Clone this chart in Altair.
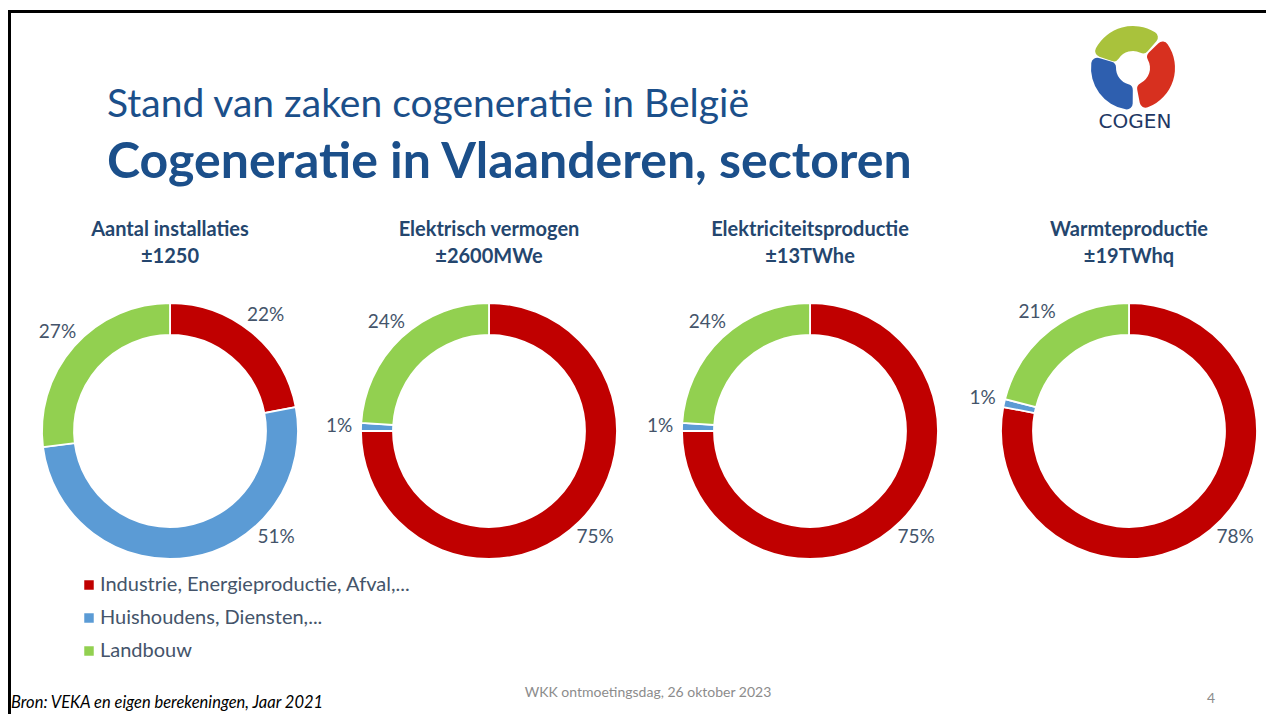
import altair as alt
import pandas as pd

# ---- data ----
panels = ["Aantal installaties", "Elektrisch vermogen", "Elektriciteitsproductie", "Warmteproductie"]
totals = ["±1250", "±2600MWe", "±13TWhe", "±19TWhq"]
categories = ["Industrie, Energieproductie, Afval,...", "Huishoudens, Diensten,...", "Landbouw"]
industrie = [22, 75, 75, 78]
huishoudens = [51, 1, 1, 1]
landbouw = [27, 24, 24, 21]
colors = ["#C00000", "#5B9BD5", "#92D050"]

series = [industrie, huishoudens, landbouw]
rows = []
for i, p in enumerate(panels):
    for j, cat in enumerate(categories):
        rows.append({"panel": p, "category": cat, "ord": j, "value": series[j][i]})
df = pd.DataFrame(rows)

FONT = "Lato"
TXT = "#44546A"
NAVY = "#1B4F8A"
HEAD = "#24466E"

centers = [162, 481, 802, 1121]   # panel centres (layout)
CY = 423
LABEL_R = 150

color_enc = alt.Color(
    "category:N",
    scale=alt.Scale(domain=categories, range=colors),
    legend=alt.Legend(
        title=None, orient="none", legendX=71, legendY=567, direction="vertical",
        symbolType="square", symbolSize=90, symbolStrokeWidth=0,
        labelFont=FONT, labelFontSize=20, labelColor=TXT, rowPadding=13,
        labelOffset=1, padding=0, labelLimit=0,
    ),
)

def donut(p, cx):
    base = alt.Chart(df).transform_filter(alt.datum.panel == p)
    arc = base.mark_arc(innerRadius=96, outerRadius=128, stroke="white", strokeWidth=1.8).encode(
        x=alt.value(cx), y=alt.value(CY),
        theta=alt.Theta("value:Q", stack=True),
        order=alt.Order("ord:Q", sort="ascending"),
        color=color_enc,
    )
    lab = base.transform_stack(
        stack="value", as_=["v0", "v1"], groupby=["panel"],
        sort=[alt.SortField("ord", order="ascending")]
    ).transform_joinaggregate(tot="sum(value)").transform_calculate(
        f0="datum.v0 / datum.tot", f1="datum.v1 / datum.tot",
    ).transform_calculate(
        ang="(datum.f0 < 0.375 && datum.f1 > 0.375 ? 0.375 : (datum.f0 + datum.f1) / 2) * 2 * PI",
        lx="%d + %d * sin(datum.ang)" % (cx, LABEL_R),
        ly="%d - %d * cos(datum.ang)" % (CY, LABEL_R),
        lbl="datum.value + '%'",
    ).mark_text(font=FONT, fontSize=19, color=TXT).encode(
        x=alt.X("lx:Q", scale=None, axis=None),
        y=alt.Y("ly:Q", scale=None, axis=None),
        text="lbl:N",
    )
    h1 = alt.Chart(pd.DataFrame({"t": [p]})).mark_text(
        font=FONT, fontSize=20, fontWeight="bold", color=HEAD, baseline="alphabetic"
    ).encode(x=alt.value(cx), y=alt.value(228), text="t:N")
    return [arc, lab, h1]

def total_text(t, cx):
    return alt.Chart(pd.DataFrame({"t": [t]})).mark_text(
        font=FONT, fontSize=20, fontWeight="bold", color=HEAD, baseline="alphabetic"
    ).encode(x=alt.value(cx), y=alt.value(255), text="t:N")

one = pd.DataFrame({"t": [0]})

def txt(text, x, y, **kw):
    return alt.Chart(one).mark_text(text=text, baseline="alphabetic", **kw).encode(
        x=alt.value(x), y=alt.value(y))

subtitle = txt("Stand van zaken cogeneratie in België", 99, 109, align="left",
               font=FONT, fontSize=39, color=NAVY)
title = txt("Cogeneratie in Vlaanderen, sectoren", 99, 170, align="left",
            font=FONT, fontSize=50, fontWeight="bold", color=NAVY)
footer = txt("WKK ontmoetingsdag, 26 oktober 2023", 640, 689, align="center",
             font=FONT, fontSize=14, color="#8C8C8C")
pagenum = txt("4", 1203, 695, align="center", font=FONT, fontSize=14, color="#8C8C8C")
source = txt("Bron: VEKA en eigen berekeningen, Jaar 2021", 3, 700, align="left",
             font=FONT, fontSize=16.5, fontStyle="italic", color="#000000")

frame_top = alt.Chart(one).mark_rule(color="black", strokeWidth=3).encode(
    x=alt.value(0), x2=alt.value(1258), y=alt.value(3.5))
frame_left = alt.Chart(one).mark_rule(color="black", strokeWidth=3).encode(
    x=alt.value(1.5), y=alt.value(2), y2=alt.value(706))

LX, LY = 1125, 60
def logo_arc(a0, a1, col):
    return alt.Chart(one).mark_arc(innerRadius=17, outerRadius=42, cornerRadius=6, color=col).encode(
        x=alt.value(LX), y=alt.value(LY), theta=alt.value(a0), theta2=alt.value(a1))

logo = [
    logo_arc(-1.25, 0.72, "#A9C23C"),
    logo_arc(0.80, 2.95, "#D7301F"),
    logo_arc(3.15, 5.0, "#2E5FAF"),
    txt("COGEN", 1127, 120, align="center", font="DejaVu Sans", fontSize=20, color="#1F3864"),
]

layers = [frame_top, frame_left, subtitle, title] + logo
for p, t, cx in zip(panels, totals, centers):
    layers += donut(p, cx)
    layers.append(total_text(t, cx))
layers += [footer, pagenum, source]

chart = alt.layer(*layers).properties(
    width=1258, height=706, padding=0,
    autosize=alt.AutoSizeParams(type="none"),
).resolve_scale(theta="independent").configure_view(strokeWidth=0)

chart.save("out.html", embed_options={"renderer": "svg", "actions": False})
